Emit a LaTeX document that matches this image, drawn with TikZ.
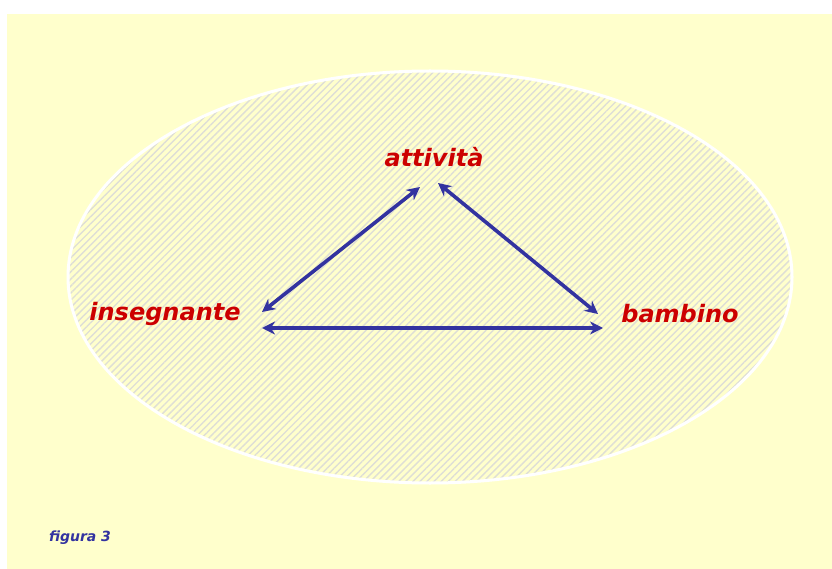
\documentclass[tikz,border=0pt]{standalone}
\usepackage{fontspec}
\setmainfont{DejaVu Sans}
\usetikzlibrary{patterns.meta,arrows.meta,calc}
\definecolor{bgyellow}{RGB}{255,255,204}
\definecolor{hatchgrey}{RGB}{222,222,214}
\definecolor{lblred}{RGB}{204,0,0}
\definecolor{arrowblue}{RGB}{51,51,160}
\begin{document}
\begin{tikzpicture}[x=1pt,y=-1pt,
  lbl/.style={text=lblred,font=\fontsize{24}{28}\selectfont\bfseries\itshape,inner sep=0pt},
  link/.style={arrowblue,line width=3.6pt,{Stealth[length=13pt,width=13pt]}-{Stealth[length=13pt,width=13pt]}}]
\useasboundingbox (0,0) rectangle (832,569);
\fill[white] (0,0) rectangle (832,569);
\fill[bgyellow] (7,14) rectangle (832,569);
\fill[bgyellow] (430,277) ellipse [x radius=362,y radius=206];
\fill[pattern={Lines[angle=45,distance=5pt,line width=1.4pt]},pattern color=hatchgrey] (430,277) ellipse [x radius=362,y radius=206];
\draw[white,line width=3pt] (430,277) ellipse [x radius=362,y radius=206];
\node[lbl] (att) at (434,157) {attività};
\node[lbl] (ins) at (165,314) {insegnante};
\node[lbl] (bam) at (680,314) {bambino};
\draw[link] ($(ins)+(97,-2)$) -- ($(att)+(-14,30)$);
\draw[link] ($(att)+(4,26)$) -- ($(bam)+(-82,0)$);
\draw[link] ($(ins)+(97,14)$) -- ($(bam)+(-77,14)$);
\node[text=arrowblue,font=\fontsize{14}{16}\selectfont\bfseries\itshape,inner sep=0pt] (fig) at (80,538) {figura 3};
\end{tikzpicture}
\end{document}
